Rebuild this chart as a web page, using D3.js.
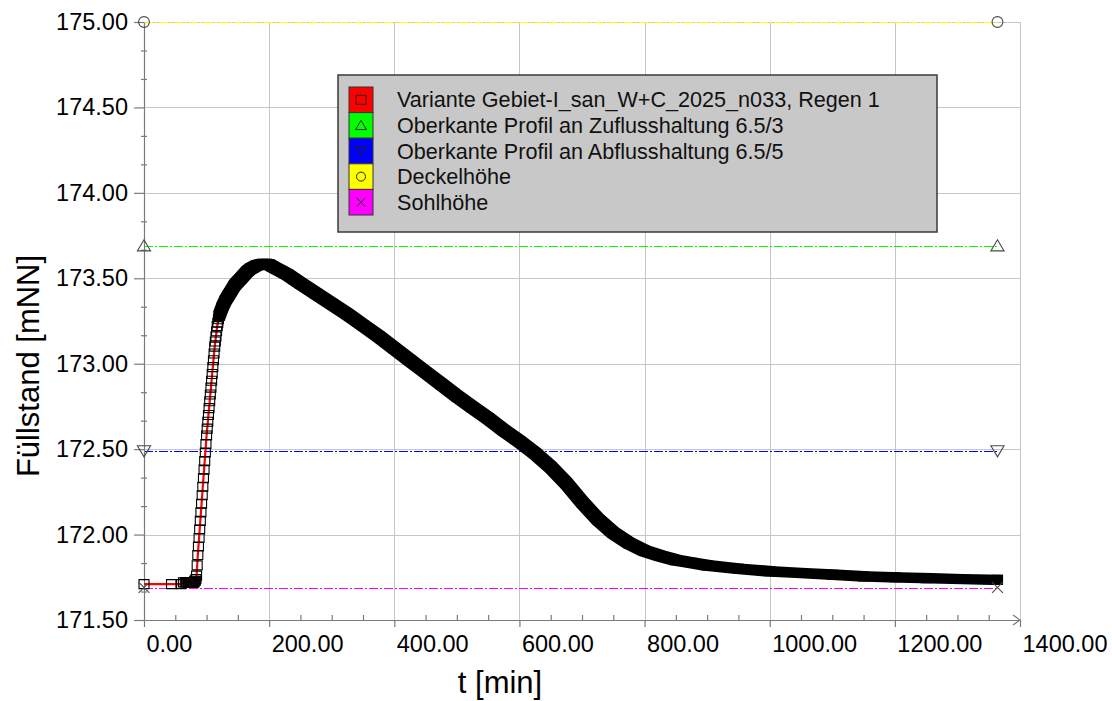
<!DOCTYPE html>
<html><head><meta charset="utf-8">
<script src="https://cdn.jsdelivr.net/npm/d3@7"></script>
<style>
body{margin:0;background:#fff;}
svg{display:block;font-family:"Liberation Sans",Arial,sans-serif;}
</style></head><body>
<svg id="chart" width="1112" height="701"></svg>
<script>
// ---------- data ----------
const xTicks = [0, 200, 400, 600, 800, 1000, 1200, 1400];
const yTicks = [171.5, 172, 172.5, 173, 173.5, 174, 174.5, 175];
const xTitle = "t [min]";
const yTitle = "Füllstand [mNN]";

const seriesName = "Variante Gebiet-I_san_W+C_2025_n033, Regen 1";
const tMin = [0,44,59,63,66,68,70,71,72,73,74,75,76,77,78,79,80,81,82,83,
  84,85,86,87,88,89,90,91,92,93,94,95,96,97,98,99,100,101,102,103,104,105,106,107,108,109,110,
  111,112,113,114,115,116,117,118,119,120,
  125,130,135,140,145,150,155,160,165,170,175,180,185,190,195,200,205,210,220,230,240,250,
  275,300,325,350,375,400,425,450,475,500,525,550,575,600,625,650,675,700,725,750,775,800,
  825,850,875,900,950,1000,1050,1100,1150,1200,1250,1300,1364];
const levelMNN = [171.71,171.71,171.71,171.72,171.72,171.72,171.72,171.72,171.72,171.72,171.72,171.72,171.72,171.72,171.72,171.72,171.72,171.73,171.73,171.74,
  171.76,171.82,171.88,171.93,171.98,172.03,172.08,172.13,172.18,172.23,172.28,172.33,172.38,172.43,172.48,172.53,172.58,172.62,172.66,172.70,172.74,172.78,172.82,172.86,172.90,172.94,172.98,
  173.02,173.06,173.10,173.13,173.16,173.19,173.22,173.24,173.26,173.28,
  173.33,173.37,173.40,173.43,173.46,173.48,173.50,173.52,173.54,173.555,173.565,173.575,173.58,173.585,173.585,173.58,173.57,173.56,173.54,173.52,173.495,173.47,
  173.41,173.35,173.29,173.225,173.16,173.09,173.02,172.95,172.88,172.81,172.745,172.68,172.61,172.545,172.475,172.395,172.30,172.19,172.09,172.01,171.95,171.905,
  171.875,171.85,171.835,171.82,171.80,171.785,171.775,171.765,171.755,171.75,171.745,171.74,171.735];
// record is logged every minute; from here on it is listed more coarsely
const denseFrom = 120;

const refNames = ["Oberkante Profil an Zuflusshaltung 6.5/3", "Oberkante Profil an Abflusshaltung 6.5/5", "Deckelhöhe", "Sohlhöhe"];
const refLevels = [173.69, 172.49, 175.00, 171.69];
const refStartT = 0;
const refEndT = 1364;

// ---------- styles ----------
const refColors = ["#00ff00", "#0000ff", "#ffff00", "#ff00ff"];
const refSymbols = ["triUp", "triDown", "circle", "cross"];
const seriesColor = "#ff0000";

const svg = d3.select("#chart");
const x = d3.scaleLinear().domain([0, 1400]).range([144, 1020]);
const y = d3.scaleLinear().domain([171.5, 175]).range([620, 22]);

function symPath(kind, s) {
  switch (kind) {
    case "square": return `M${-s/2},${-s*0.45}h${s}v${s*0.9}h${-s}Z`;
    case "triUp": return `M0,${-s*0.5}L${s*0.55},${s*0.42}L${-s*0.55},${s*0.42}Z`;
    case "triDown": return `M0,${s*0.5}L${s*0.55},${-s*0.42}L${-s*0.55},${-s*0.42}Z`;
    case "circle": { const r = s*0.45; return `M${r},0A${r},${r} 0 1,1 ${-r},0A${r},${r} 0 1,1 ${r},0Z`; }
    case "cross": { const r = s*0.45; return `M${-r},${-r}L${r},${r}M${-r},${r}L${r},${-r}`; }
  }
}

// ---------- grid ----------
const grid = svg.append("g").attr("stroke", "#c6c6c6").attr("stroke-width", 1).attr("shape-rendering", "crispEdges");
grid.selectAll("line.v").data(xTicks.filter(d => d > 0)).enter().append("line")
  .attr("x1", d => Math.round(x(d)) + 0.5).attr("x2", d => Math.round(x(d)) + 0.5)
  .attr("y1", y(175)).attr("y2", y(171.5));
grid.selectAll("line.h").data(yTicks.filter(d => d > 171.5)).enter().append("line")
  .attr("y1", d => Math.round(y(d)) + 0.5).attr("y2", d => Math.round(y(d)) + 0.5)
  .attr("x1", x(0)).attr("x2", x(1400));

// ---------- reference lines ----------
const refG = svg.append("g");
refLevels.forEach((v, i) => {
  refG.append("line")
    .attr("x1", x(refStartT)).attr("x2", x(refEndT))
    .attr("y1", Math.round(y(v)) + 0.5).attr("y2", Math.round(y(v)) + 0.5)
    .attr("stroke", refColors[i]).attr("stroke-width", 1.2)
    .attr("stroke-dasharray", "9,2,2,2");
});

// ---------- axes ----------
const fmt = d3.format(".2f");
const xAxis = svg.append("g").attr("transform", `translate(0,${y(171.5)})`)
  .call(d3.axisBottom(x).tickValues(xTicks).tickFormat(fmt).tickSizeInner(7).tickSizeOuter(0));
xAxis.selectAll("text").attr("x", 2).attr("y", 15).attr("dy", "0.71em")
  .attr("text-anchor", "start").attr("font-size", "23.5px").attr("fill", "#000");
const minorX = d3.range(50, 1400, 50).filter(d => d % 200 !== 0);
svg.append("g").attr("transform", `translate(0,${y(171.5)})`)
  .call(d3.axisBottom(x).tickValues(minorX).tickSize(-5).tickFormat(""))
  .call(g => g.select(".domain").remove());

const yAxis = svg.append("g").attr("transform", `translate(${x(0)},0)`)
  .call(d3.axisLeft(y).tickValues(yTicks).tickFormat(fmt).tickSizeInner(10).tickSizeOuter(0).tickPadding(6));
yAxis.selectAll("text").attr("font-size", "23.5px").attr("fill", "#000");
const minorY = d3.range(0, 21).map(k => 171.5 + k / 6).filter((d, k) => k % 3 !== 0);
svg.append("g").attr("transform", `translate(${x(0) + 3},0)`)
  .call(d3.axisLeft(y).tickValues(minorY).tickSize(6).tickFormat(""))
  .call(g => g.select(".domain").remove());

svg.selectAll(".domain, .tick line").attr("stroke", "#7a7a7a").attr("stroke-width", 1.2);
svg.selectAll(".tick text").attr("font-family", "Liberation Sans, Arial, sans-serif");
svg.append("path")
  .attr("d", `M${x(1400) - 7},${y(171.5) - 5}L${x(1400)},${y(171.5)}L${x(1400) - 7},${y(171.5) + 5}`)
  .attr("fill", "none").attr("stroke", "#7a7a7a").attr("stroke-width", 1.2);

// ---------- series ----------
const pts = tMin.map((t, i) => [t, levelMNN[i]]);
svg.append("path").datum(pts)
  .attr("d", d3.line().x(d => x(d[0])).y(d => y(d[1])))
  .attr("fill", "none").attr("stroke", seriesColor).attr("stroke-width", 2.2);

const hw = 5.6, hh = 5.1;
let band = "";
for (let i = 0; i < pts.length - 1; i++) {
  if (pts[i][0] < denseFrom) continue;
  const a = [x(pts[i][0]), y(pts[i][1])], b = [x(pts[i+1][0]), y(pts[i+1][1])];
  const corners = [];
  [a, b].forEach(p => { corners.push([p[0]-hw, p[1]-hh], [p[0]+hw, p[1]-hh], [p[0]+hw, p[1]+hh], [p[0]-hw, p[1]+hh]); });
  const hull = d3.polygonHull(corners);
  band += "M" + hull.join("L") + "Z";
}
svg.append("path").attr("d", band).attr("fill", "#000");

svg.append("g").selectAll("path").data(pts).enter().append("path")
  .attr("transform", d => `translate(${x(d[0])},${y(d[1])})`)
  .attr("d", symPath("square", 10))
  .attr("fill", "none").attr("stroke", "#000").attr("stroke-width", 1.1);

const mk = svg.append("g");
refLevels.forEach((v, i) => {
  [refStartT, refEndT].forEach(t => {
    mk.append("path").attr("transform", `translate(${x(t)},${y(v)})`)
      .attr("d", symPath(refSymbols[i], 12))
      .attr("fill", "none").attr("stroke", "#4a4a4a").attr("stroke-width", 1.1);
  });
});

// ---------- axis titles ----------
svg.append("text").attr("x", 500).attr("y", 693).attr("text-anchor", "middle")
  .attr("font-size", "31px").attr("fill", "#000").text(xTitle);
svg.append("text").attr("transform", "translate(39,366) rotate(-90)").attr("text-anchor", "middle")
  .attr("font-size", "31px").attr("fill", "#000").text(yTitle);

// ---------- legend ----------
const legendNames = [seriesName, refNames[0], refNames[1], refNames[2], refNames[3]];
const legendColors = [seriesColor, refColors[0], refColors[1], refColors[2], refColors[3]];
const legendSymbols = ["square", refSymbols[0], refSymbols[1], refSymbols[2], refSymbols[3]];
const lg = svg.append("g");
lg.append("rect").attr("x", 338).attr("y", 75).attr("width", 599).attr("height", 157)
  .attr("fill", "#c8c8c8").attr("stroke", "#3a3a3a").attr("stroke-width", 1.5);
const rowH = 25.6, rowTop = 87;
legendNames.forEach((name, i) => {
  const yc = rowTop + rowH * i + rowH / 2;
  lg.append("rect").attr("x", 349).attr("y", rowTop + rowH * i).attr("width", 24).attr("height", rowH)
    .attr("fill", legendColors[i]).attr("stroke", "#333").attr("stroke-width", 1);
  lg.append("path").attr("transform", `translate(361,${yc})`)
    .attr("d", symPath(legendSymbols[i], 10))
    .attr("fill", "none").attr("stroke", "#222").attr("stroke-width", 1);
  lg.append("text").attr("x", 397).attr("y", yc).attr("dy", "0.35em")
    .attr("font-size", "21.6px").attr("fill", "#111").text(name);
});
</script>
</body></html>
